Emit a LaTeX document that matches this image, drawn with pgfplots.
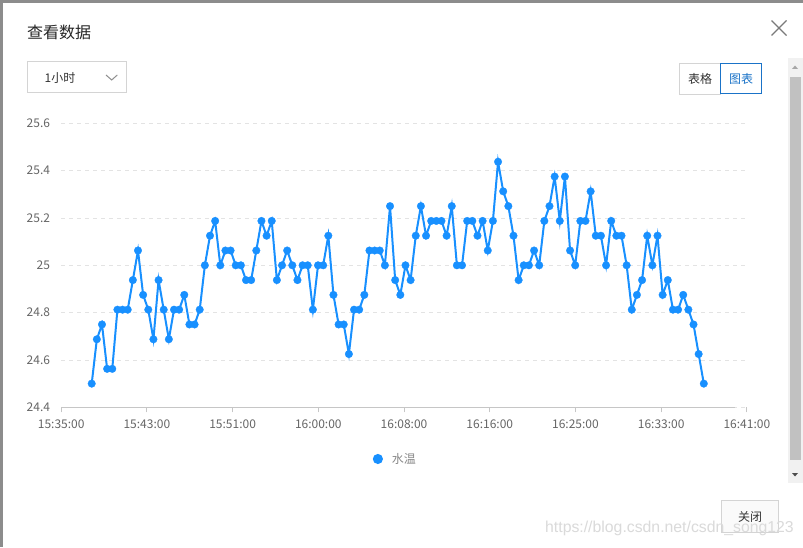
\documentclass[border=0pt]{standalone}
\usepackage{pgfplots}
\pgfplotsset{compat=1.18}
\usepackage{fontspec}
\setmainfont{Noto Sans CJK SC}
\newfontfamily\wmfont{Liberation Sans}
\definecolor{c1}{HTML}{1890FF}
\definecolor{gridc}{HTML}{E3E3E3}
\definecolor{axc}{HTML}{C6C6C6}
\definecolor{tickc}{HTML}{666666}
\definecolor{legc}{HTML}{888888}
\definecolor{stripc}{HTML}{8C8C8C}
\definecolor{titlec}{HTML}{262626}
\definecolor{boxc}{HTML}{D4D4D4}
\definecolor{bluec}{HTML}{1A73C8}
\definecolor{txtc}{HTML}{333333}
\definecolor{chevc}{HTML}{8F8F8F}
\definecolor{trackc}{HTML}{F1F1F1}
\definecolor{thumbc}{HTML}{C1C1C1}
\definecolor{wmc}{HTML}{DADADA}
\definecolor{xc}{HTML}{7A7A7A}
\pgfplotstableread{
i v
0 24.5
1 24.6875
2 24.75
3 24.5625
4 24.5625
5 24.8125
6 24.8125
7 24.8125
8 24.9375
9 25.0625
10 24.875
11 24.8125
12 24.6875
13 24.9375
14 24.8125
15 24.6875
16 24.8125
17 24.8125
18 24.875
19 24.75
20 24.75
21 24.8125
22 25.0
23 25.125
24 25.1875
25 25.0
26 25.0625
27 25.0625
28 25.0
29 25.0
30 24.9375
31 24.9375
32 25.0625
33 25.1875
34 25.125
35 25.1875
36 24.9375
37 25.0
38 25.0625
39 25.0
40 24.9375
41 25.0
42 25.0
43 24.8125
44 25.0
45 25.0
46 25.125
47 24.875
48 24.75
49 24.75
50 24.625
51 24.8125
52 24.8125
53 24.875
54 25.0625
55 25.0625
56 25.0625
57 25.0
58 25.25
59 24.9375
60 24.875
61 25.0
62 24.9375
63 25.125
64 25.25
65 25.125
66 25.1875
67 25.1875
68 25.1875
69 25.125
70 25.25
71 25.0
72 25.0
73 25.1875
74 25.1875
75 25.125
76 25.1875
77 25.0625
78 25.1875
79 25.4375
80 25.3125
81 25.25
82 25.125
83 24.9375
84 25.0
85 25.0
86 25.0625
87 25.0
88 25.1875
89 25.25
90 25.375
91 25.1875
92 25.375
93 25.0625
94 25.0
95 25.1875
96 25.1875
97 25.3125
98 25.125
99 25.125
100 25.0
101 25.1875
102 25.125
103 25.125
104 25.0
105 24.8125
106 24.875
107 24.9375
108 25.125
109 25.0
110 25.125
111 24.875
112 24.9375
113 24.8125
114 24.8125
115 24.875
116 24.8125
117 24.75
118 24.625
119 24.5
}\datatable
\begin{document}
\begin{tikzpicture}[x=1pt,y=1pt]
\useasboundingbox (0,0) rectangle (803,547);
\fill[white] (0,0) rectangle (803,547);
% background frame strips
\fill[stripc] (0,544) rectangle (803,547);
\fill[stripc] (0,0) rectangle (2.5,547);
% title and close icon
\node[anchor=base west, inner sep=0, text=titlec, font=\fontsize{16}{18}\selectfont] at (27,508.2) {查看数据};
\draw[xc, line width=1.3pt] (771.5,526.5) -- (786.5,511.5) (771.5,511.5) -- (786.5,526.5);
% dropdown
\draw[boxc, line width=0.8pt] (27.5,485.5) rectangle (126.5,455);
\node[anchor=base west, inner sep=0, text=txtc, font=\fontsize{12}{14}\selectfont] at (44.5,464.1) {1小时};
\draw[chevc, line width=1pt] (106,472) -- (111.7,467) -- (117.3,472);
% buttons
\draw[boxc, line width=0.8pt] (679.5,483.5) rectangle (720,453);
\draw[bluec, line width=1pt] (720,483.5) rectangle (761.5,453);
\node[anchor=base, inner sep=0, text=txtc, font=\fontsize{12}{14}\selectfont] at (700,463.1) {表格};
\node[anchor=base, inner sep=0, text=bluec, font=\fontsize{12}{14}\selectfont] at (741,463.1) {图表};
% scrollbar
\fill[trackc] (788,489) rectangle (803,64);
\fill[thumbc] (789.5,470) rectangle (801,87);
\fill[black!35] (792,478) -- (798,478) -- (795,481.5) -- cycle;
\fill[black!70] (792,74) -- (798,74) -- (795,70.5) -- cycle;
% close button
\filldraw[fill=black!2, draw=boxc, line width=0.8pt] (721.5,46.5) rectangle (778.5,15);
\node[anchor=base, inner sep=0, text=txtc, font=\fontsize{12}{14}\selectfont] at (750,25.7) {关闭};
\node[anchor=base west, inner sep=0, text=wmc, font=\wmfont\fontsize{15.8}{18}\selectfont] at (545,15) {https://blog.csdn.net/csdn\_song123};
% chart
\begin{axis}[
  at={(61.2pt,139.7pt)}, anchor=south west,
  scale only axis, width=685.8pt, height=284pt,
  xmin=-5.93, xmax=127.4, ymin=24.4, ymax=25.6,
  axis line style={draw=none},
  xtick={-5.93,10.73,27.40,44.06,60.72,77.39,94.05,110.71,127.37},
  xticklabels={15:35:00,15:43:00,15:51:00,16:00:00,16:08:00,16:16:00,16:25:00,16:33:00,16:41:00},
  ytick={24.4,24.6,24.8,25.0,25.2,25.4,25.6},
  yticklabels={24.4,24.6,24.8,25,25.2,25.4,25.6},
  xtick pos=bottom, tick align=outside, major tick length=5pt,
  xtick style={draw=axc, line width=0.8pt},
  ytick style={draw=none},
  ymajorgrids, grid style={draw=gridc, line width=0.8pt, dash pattern=on 4pt off 4pt},
  ticklabel style={font=\fontsize{12}{14}\selectfont, text=tickc, inner sep=0pt},
  xticklabel style={anchor=north, yshift=-7.5pt},
  yticklabel style={anchor=east, xshift=-6pt},
  /pgf/number format/assume math mode=true,
  clip=false,
  legend style={at={(0.4542,-0.182)}, anchor=west, draw=none, fill=none, inner sep=0pt,
    nodes={inner sep=0pt}, font=\fontsize{12}{14}\selectfont, text=legc,
    /tikz/every odd column/.append style={column sep=9pt}},
  legend image code/.code={\fill[c1] (4pt,0pt) circle (4pt);},
]
\draw[axc, line width=0.8pt] (axis cs:-5.93,24.4) -- (axis cs:125.1,24.4);
\addplot[c1, line width=2pt, mark=*, mark size=3.8pt, mark options={fill=c1, draw=c1, line width=0.3pt}] table[x=i, y=v] {\datatable};
\addlegendentry{水温}
\end{axis}
\end{tikzpicture}
\end{document}
